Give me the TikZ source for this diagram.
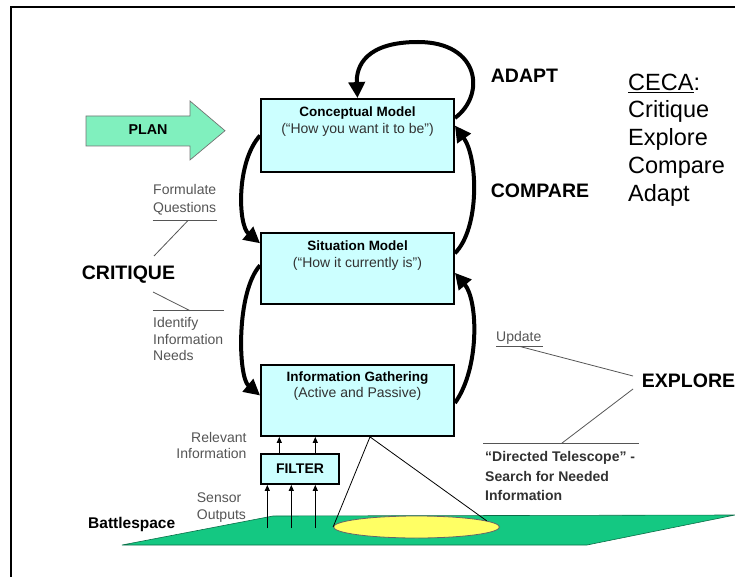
\documentclass[tikz,border=0pt]{standalone}
\usepackage{fontspec}
\setmainfont{Liberation Sans}
\usetikzlibrary{arrows.meta,shapes.geometric}
\definecolor{boxfill}{RGB}{204,255,255}
\definecolor{plangreen}{RGB}{128,240,190}
\definecolor{ground}{RGB}{20,200,130}
\definecolor{lensfill}{RGB}{255,255,100}
\definecolor{annot}{RGB}{85,85,85}
\definecolor{subtext}{RGB}{50,50,50}
\newcommand\fsz[1]{\fontsize{#1}{#1}\selectfont}
\tikzset{
  modelbox/.style={draw=black, line width=1.8pt, fill=boxfill, minimum width=193pt, inner sep=0pt},
  boxtitle/.style={anchor=base, font=\fsz{13.5}\bfseries, inner sep=0pt},
  boxsub/.style={anchor=base, font=\fsz{14}, text=subtext, inner sep=0pt},
  cyclearrow/.style={line width=4pt, -{Triangle[length=16pt,width=16pt]}},
  thinarrow/.style={line width=1pt, -{Triangle[length=6pt,width=5pt]}},
  annottext/.style={anchor=base west, font=\fsz{14}, text=annot, inner sep=0pt},
  annotline/.style={draw=annot, line width=0.8pt},
  bigword/.style={anchor=base west, font=\fsz{19.5}\bfseries, inner sep=0pt},
  cecaword/.style={anchor=base west, font=\fsz{23.5}, inner sep=0pt},
}
\begin{document}
\begin{tikzpicture}[x=1pt,y=-1pt]
\useasboundingbox (0,0) rectangle (735,577);
% frame
\draw[line width=2pt] (11,577) -- (11,7) -- (735,7);

% battlespace ground
\fill[ground, draw=ground!55!black, line width=0.6pt] (122,545) -- (273,516) -- (735,515) -- (587,545) -- cycle;
\node[ellipse, draw=black!60, fill=lensfill, minimum width=166pt, minimum height=22pt, inner sep=0pt, line width=0.8pt] (lens) at (416.5,527) {};

% model boxes
\node[modelbox, minimum height=73pt] (cm) at (357.5,135.5) {};
\node[modelbox, minimum height=71.4pt] (sm) at (357.5,268.3) {};
\node[modelbox, minimum height=71pt] (ig) at (357.5,400.5) {};
\node[boxtitle] (cmt) at (357.5,116.5) {Conceptual Model};
\node[boxsub] (cms) at (357.5,134) {(“How you want it to be”)};
\node[boxtitle] (smt) at (357.5,250) {Situation Model};
\node[boxsub] (sms) at (357.5,267) {(“How it currently is”)};
\node[boxtitle] (igt) at (357.5,381.7) {Information Gathering};
\node[boxsub] (igs) at (357.5,397.5) {(Active and Passive)};

% filter
\node[draw=black, line width=1.8pt, fill=boxfill, minimum width=78pt, minimum height=30pt, inner sep=0pt, font=\fsz{14}\bfseries] (filter) at (300,469) {FILTER};

% cycle arrows
\draw[cyclearrow] (cm.west) .. controls (236,162) and (238,225) .. ([yshift=25pt]sm.west);
\draw[cyclearrow] ([yshift=3pt]sm.west) .. controls (236,292) and (238,377) .. ([yshift=5pt]ig.west);
\draw[cyclearrow] ([yshift=-2.5pt]ig.east) .. controls (480,368) and (478,300) .. ([yshift=-4.5pt]sm.east);
\draw[cyclearrow] ([yshift=15pt]sm.east) .. controls (480,228) and (478,158) .. ([yshift=10pt]cm.east);
\draw[cyclearrow] ([yshift=17.5pt]cm.east) .. controls (486,95) and (480,42) .. (418,42) .. controls (366,42) and (356,66) .. (cm.north);

% sensor and relevant arrows
\coordinate (s1) at (267.3,528);
\coordinate (s2) at (291.3,528);
\coordinate (s3) at (315.3,528);
\draw[thinarrow] (s1) -- (s1 |- filter.south);
\draw[thinarrow] (s2) -- (s2 |- filter.south);
\draw[thinarrow] (s3) -- (s3 |- filter.south);
\draw[thinarrow] ([xshift=-20.7pt]filter.north) -- ([xshift=-20.7pt]filter.north |- ig.south);
\draw[thinarrow] ([xshift=15.3pt]filter.north) -- ([xshift=15.3pt]filter.north |- ig.south);

% telescope lines
\draw[line width=0.8pt] ([xshift=12.5pt]ig.south) -- (lens.west);
\draw[line width=0.8pt] ([xshift=12.5pt]ig.south) -- (lens.5);

% PLAN arrow
\draw[fill=plangreen, draw=black!55, line width=0.7pt] (86,116) -- (190,116) -- (190,101) -- (225,130.7) -- (190,160) -- (190,146) -- (86,146) -- cycle;
\node[anchor=base, font=\fsz{14.3}\bfseries, inner sep=0pt] (plan) at (148,135) {PLAN};

% CRITIQUE side
\node[annottext] (form) at (153,195) {Formulate};
\node[annottext] (ques) at (153,212) {Questions};
\draw[annotline] (152.7,220) -- (217,220);
\coordinate (fqline) at (188,220.5);
\node[bigword] (crit) at (81.7,279) {CRITIQUE};
\coordinate (critup) at (154,256);
\coordinate (critdn) at (153,292);
\draw[annotline] (fqline) -- (critup);
\coordinate (iiline) at (190,310.7);
\draw[annotline] (critdn) -- (iiline);
\draw[annotline] (152.7,310.7) -- (224,310.7);
\node[annottext] (iden) at (153,327) {Identify};
\node[annottext] (info) at (153,344) {Information};
\node[annottext] (need) at (153,360.7) {Needs};

% right side words
\node[bigword] (adapt) at (490.7,83) {ADAPT};
\node[bigword] (compare) at (490.7,198) {COMPARE};
\node[cecaword] (ceca) at (628,91) {\underline{CECA}:};
\node[cecaword] (c1) at (628,117.5) {Critique};
\node[cecaword] (c2) at (628,145.5) {Explore};
\node[cecaword] (c3) at (628,174) {Compare};
\node[cecaword] (c4) at (628,201) {Adapt};

% EXPLORE side
\node[annottext] (upd) at (496,341.7) {Update};
\draw[annotline] (496,346) -- (543,346);
\coordinate (updline) at (520,346.5);
\node[bigword] (explore) at (641.7,387) {EXPLORE};
\coordinate (expup) at (633,376);
\coordinate (expdn) at (633,389);
\draw[annotline] (updline) -- (expup);
\coordinate (dtline) at (561.7,443.3);
\draw[annotline] (expdn) -- (dtline);
\draw[annotline] (483,443.3) -- (639,443.3);
\node[anchor=base west, font=\fsz{14}\bfseries, text=subtext, inner sep=0pt] (dt1) at (485,461.7) {“Directed Telescope” -};
\node[anchor=base west, font=\fsz{14}\bfseries, text=subtext, inner sep=0pt] (dt2) at (485,481.7) {Search for Needed};
\node[anchor=base west, font=\fsz{14}\bfseries, text=subtext, inner sep=0pt] (dt3) at (485,500) {Information};

% filter labels
\node[anchor=base east, font=\fsz{14}, text=annot, inner sep=0pt] (rel1) at (246.7,442.3) {Relevant};
\node[anchor=base east, font=\fsz{14}, text=annot, inner sep=0pt] (rel2) at (246.7,458) {Information};
\node[annottext] (sen1) at (196.7,502.3) {Sensor};
\node[annottext] (sen2) at (196.7,519) {Outputs};
\node[anchor=base west, font=\fsz{15.5}\bfseries, inner sep=0pt] (bspace) at (88,528) {Battlespace};
\end{tikzpicture}
\end{document}
